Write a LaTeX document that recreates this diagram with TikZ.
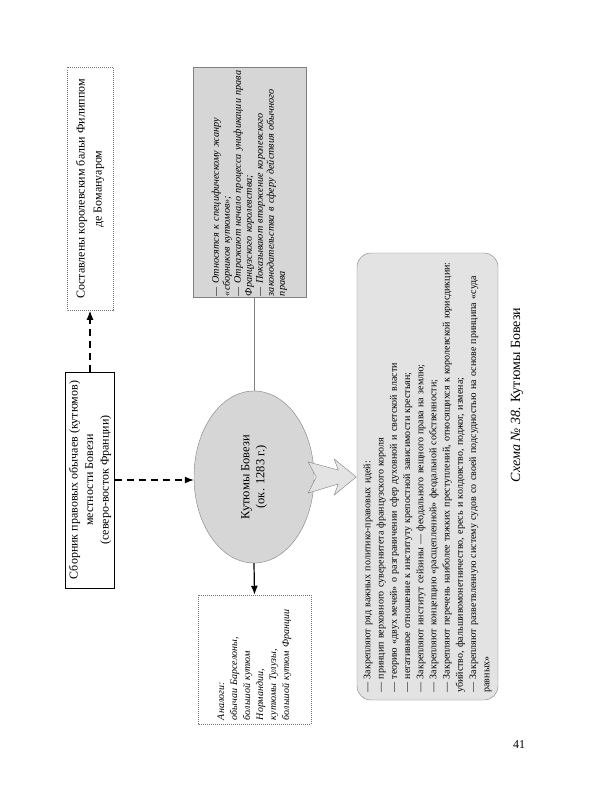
\documentclass[tikz,border=0pt]{standalone}
\usepackage{fontspec}
\setmainfont{Liberation Serif}
\usetikzlibrary{arrows.meta,shapes.geometric,calc}

\begin{document}
\begin{tikzpicture}[x=1pt, y=-1pt, >={Latex[length=9pt,width=7pt]}, line cap=butt,
    plainbox/.style={draw, thin, rotate=90, align=center},
    dotbox/.style={draw=black!55, line width=0.5pt, dash pattern=on 1pt off 1pt, rotate=90},
    shadebox/.style={draw=black!50, fill=black!16, rotate=90},
    dasharrow/.style={->, line width=1.2pt, dash pattern=on 7pt off 5pt}]
  \useasboundingbox[fill=white] (0,0) rectangle (600,800);

  % left column: source and author
  \node[dotbox, align=center, minimum width=243pt, minimum height=46pt,
        font=\fontsize{12}{17}\selectfont] (bailli) at (90,189)
        {Составлены королевским бальи Филиппом\\де Бомануаром};
  \node[plainbox, minimum width=216pt, minimum height=46pt,
        font=\fontsize{12}{15.5}\selectfont] (sbornik) at (90,480)
        {Сборник правовых обычаев (кутюмов)\\местности Бовези\\(северо-восток Франции)};

  % centre: the coutumes themselves
  \node[shadebox, ellipse, inner sep=0pt, minimum width=172pt, minimum height=120pt,
        align=center, font=\fontsize{12.5}{15}\selectfont] (kutum) at (254,477)
        {Кутюмы Бовези\\(ок. 1283 г.)};

  % notes above, analogues below
  \node[shadebox, minimum width=230pt, minimum height=113pt, inner xsep=1pt, text width=228pt,
        align=left, font=\fontsize{10.2}{11}\selectfont\itshape] (notes) at (249.5,182)
        {— Относятся к специфическому жанру\\
         «сборников кутюмов»;\\
         — Отражают начало процесса унификации права\\
         Французского королевства;\\
         — Показывают вторжение королевского\\
         законодательства в сферу действия обычного\\
         права};
  \node[dotbox, minimum width=129pt, minimum height=113pt, text width=121pt,
        align=left, font=\fontsize{10}{13}\selectfont\itshape] (analog) at (254.5,659.5)
        {Аналоги:\\
         обычаи Барселоны,\\
         большой кутюм\\
         Нормандии,\\
         кутюмы Тулузы,\\
         большой кутюм Франции};

  % right: what the coutumes fix
  \node[draw=black!50, fill=black!11, rounded corners=14pt, rotate=90,
        minimum width=447pt, minimum height=141pt, text width=432pt, align=left,
        font=\fontsize{10}{13.2}\selectfont] (ideas) at (427.5,476.5)
        {— Закрепляют ряд важных политико-правовых идей:\\
         — принцип верховного суверенитета французского короля\\
         — теорию «двух мечей» о разграничении сфер духовной и светской власти\\
         — негативное отношение к институту крепостной зависимости крестьян;\\
         — Закрепляют институт сейзины — феодального вещного права на землю;\\
         — Закрепляют концепцию «расщепленной» феодальной собственности;\\
         — Закрепляют перечень наиболее тяжких преступлений, относящихся к королевской юрисдикции:\\
         убийство, фальшивомонетничество, ересь и колдовство, поджог, измена;\\
         — Закрепляют разветвленную систему судов со своей подсудностью на основе принципа «суда\\
         равных»};

  % connectors
  \draw[dasharrow] (sbornik.east) -- (bailli.west);
  \draw[dasharrow] (sbornik.south) -- (sbornik.south -| kutum.north);
  \draw[->, line width=1.2pt] (kutum.west) -- (analog.east);
  \draw[black!50] (kutum.east |- notes.west) -- (kutum.east);

  % block arrow into the big box
  \draw[black!50, fill=black!11, line join=miter]
    ($(kutum.south)+(-6,-15)$) -- ($(kutum.south)+(24,-7)$) -- ($(kutum.south)+(20,-18)$)
    -- ($(kutum.south)+(42,0)$) -- ($(kutum.south)+(20,18)$) -- ($(kutum.south)+(24,7)$)
    -- ($(kutum.south)+(-6,16)$) -- ($(kutum.south)+(2,0)$) -- cycle;

  % caption and page number
  \node[rotate=90, font=\fontsize{14}{16}\selectfont] (caption) at (517,395)
        {\textit{Схема №~38.} Кутюмы Бовези};
  \node[font=\fontsize{12}{14}\selectfont] (pagenum) at (519,745) {41};
\end{tikzpicture}
\end{document}
